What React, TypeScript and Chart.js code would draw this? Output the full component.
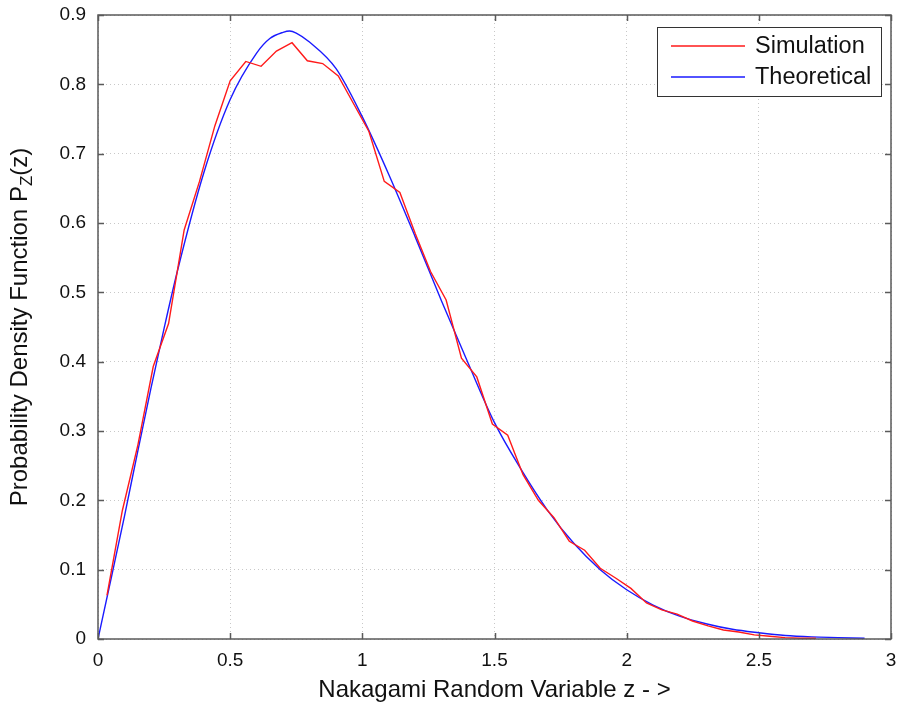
import React, { useEffect, useRef } from 'react';
import { Chart, registerables } from 'chart.js';

Chart.register(...registerables);

// Simulation (histogram-based PDF estimate)
const simX = [
  0.034, 0.092, 0.151, 0.209, 0.267, 0.326, 0.384, 0.442, 0.500, 0.559,
  0.617, 0.675, 0.734, 0.792, 0.850, 0.909, 0.967, 1.025, 1.083, 1.142,
  1.200, 1.258, 1.317, 1.375, 1.433, 1.492, 1.550, 1.608, 1.666, 1.725,
  1.783, 1.841, 1.900, 1.958, 2.016, 2.075, 2.133, 2.191, 2.249, 2.308,
  2.366, 2.424, 2.483, 2.541, 2.599, 2.657, 2.716,
];
const simY = [
  0.063, 0.185, 0.280, 0.393, 0.455, 0.590, 0.660, 0.740, 0.805, 0.833,
  0.826, 0.848, 0.860, 0.834, 0.830, 0.812, 0.772, 0.732, 0.660, 0.644,
  0.585, 0.530, 0.489, 0.405, 0.378, 0.310, 0.294, 0.237, 0.200, 0.175,
  0.141, 0.128, 0.102, 0.088, 0.073, 0.052, 0.042, 0.036, 0.026, 0.019,
  0.013, 0.010, 0.006, 0.004, 0.002, 0.001, 0.001,
];

// Theoretical Nakagami PDF
const theoX = [
  0, 0.05, 0.1, 0.15, 0.2, 0.25, 0.3, 0.4, 0.5, 0.6, 0.65, 0.7, 0.725, 0.75, 0.8,
  0.9, 1.0, 1.1, 1.2, 1.3, 1.4, 1.5, 1.6, 1.7, 1.8, 1.9, 2.0, 2.1, 2.2, 2.3,
  2.4, 2.5, 2.6, 2.7, 2.8, 2.9,
];
const theoY = [
  0, 0.088, 0.177, 0.270, 0.361, 0.448, 0.530, 0.672, 0.778, 0.845, 0.866,
  0.875, 0.877, 0.874, 0.861, 0.823, 0.753, 0.670, 0.580, 0.487, 0.398, 0.312,
  0.245, 0.186, 0.138, 0.100, 0.071, 0.049, 0.033, 0.022, 0.014, 0.009,
  0.005, 0.003, 0.002, 0.001,
];

const xTicks = [0, 0.5, 1, 1.5, 2, 2.5, 3];
const yTicks = [0, 0.1, 0.2, 0.3, 0.4, 0.5, 0.6, 0.7, 0.8, 0.9];

const seriesNames = ['Simulation', 'Theoretical'];
const seriesColors = ['#ff1a1a', '#1a1aff'];
const xTitle = 'Nakagami Random Variable z - >';
const yTitleMain = 'Probability Density Function P';
const yTitleSub = 'Z';
const yTitleEnd = '(z)';

const FONT = "'Liberation Sans', Arial, Helvetica, sans-serif";
const TITLE_PX = 24;

const decorPlugin = {
  id: 'decor',
  afterDatasetsDraw(chart: any) {
    const { ctx, chartArea: a, scales } = chart;
    ctx.save();
    ctx.strokeStyle = '#5a5a5a';
    ctx.lineWidth = 1.5;
    ctx.strokeRect(a.left, a.top, a.right - a.left, a.bottom - a.top);
    const L = 6;
    ctx.beginPath();
    xTicks.forEach((v) => {
      const px = Math.round(scales.x.getPixelForValue(v)) + 0.5;
      ctx.moveTo(px, a.bottom);
      ctx.lineTo(px, a.bottom - L);
      ctx.moveTo(px, a.top);
      ctx.lineTo(px, a.top + L);
    });
    yTicks.forEach((v) => {
      const py = Math.round(scales.y.getPixelForValue(v)) + 0.5;
      ctx.moveTo(a.left, py);
      ctx.lineTo(a.left + L, py);
      ctx.moveTo(a.right, py);
      ctx.lineTo(a.right - L, py);
    });
    ctx.stroke();
    ctx.restore();
  },
  afterDraw(chart: any) {
    const { ctx, chartArea: a } = chart;
    ctx.save();
    // legend box
    const bw = 224, bh = 69;
    const bx = a.right - 10 - bw;
    const by = a.top + 12;
    ctx.fillStyle = '#ffffff';
    ctx.fillRect(bx, by, bw, bh);
    ctx.strokeStyle = '#333';
    ctx.lineWidth = 1;
    ctx.strokeRect(bx + 0.5, by + 0.5, bw, bh);
    ctx.font = `23.5px ${FONT}`;
    ctx.textBaseline = 'middle';
    ctx.textAlign = 'left';
    seriesNames.forEach((name, i) => {
      const y = by + 19 + i * 31;
      ctx.strokeStyle = seriesColors[i];
      ctx.lineWidth = 1.5;
      ctx.beginPath();
      ctx.moveTo(bx + 14, y);
      ctx.lineTo(bx + 88, y);
      ctx.stroke();
      ctx.fillStyle = '#111';
      ctx.fillText(name, bx + 98, y + 1);
    });
    // x title
    ctx.fillStyle = '#111';
    ctx.font = `${TITLE_PX}px ${FONT}`;
    ctx.textAlign = 'center';
    ctx.textBaseline = 'middle';
    ctx.fillText(xTitle, (a.left + a.right) / 2, 690);
    // y title (rotated, with subscript)
    const f1 = `${TITLE_PX}px ${FONT}`;
    const f2 = `${Math.round(TITLE_PX * 0.72)}px ${FONT}`;
    ctx.font = f1;
    const w1 = ctx.measureText(yTitleMain).width;
    const w3 = ctx.measureText(yTitleEnd).width;
    ctx.font = f2;
    const w2 = ctx.measureText(yTitleSub).width;
    const total = w1 + w2 + w3;
    ctx.translate(20, (a.top + a.bottom) / 2);
    ctx.rotate(-Math.PI / 2);
    ctx.textAlign = 'left';
    let x0 = -total / 2;
    ctx.font = f1;
    ctx.fillText(yTitleMain, x0, 0);
    x0 += w1;
    ctx.font = f2;
    ctx.fillText(yTitleSub, x0, 7);
    x0 += w2;
    ctx.font = f1;
    ctx.fillText(yTitleEnd, x0, 0);
    ctx.restore();
  },
};

export default function App() {
  const ref = useRef<HTMLCanvasElement | null>(null);
  useEffect(() => {
    if (!ref.current) return;
    const fmt = (v: any) => String(Number(Number(v).toFixed(2)));
    const chart = new Chart(ref.current, {
      type: 'line',
      data: {
        datasets: [
          {
            label: seriesNames[0],
            data: simX.map((x, i) => ({ x, y: simY[i] })),
            borderColor: seriesColors[0],
            borderWidth: 1.4,
            pointRadius: 0,
            tension: 0,
            fill: false,
          },
          {
            label: seriesNames[1],
            data: theoX.map((x, i) => ({ x, y: theoY[i] })),
            borderColor: seriesColors[1],
            borderWidth: 1.4,
            pointRadius: 0,
            cubicInterpolationMode: 'monotone',
            fill: false,
          },
        ],
      },
      options: {
        responsive: false,
        animation: false,
        devicePixelRatio: 1,
        layout: { padding: { top: 15, right: 10, left: 0, bottom: 0 } },
        plugins: {
          legend: { display: false },
          tooltip: { enabled: false },
        },
        scales: {
          x: {
            type: 'linear',
            min: 0,
            max: 3,
            afterBuildTicks: (s: any) => {
              s.ticks = xTicks.map((v) => ({ value: v }));
            },
            afterFit: (s: any) => {
              s.height = 69;
              s.paddingLeft = 0;
              s.paddingRight = 0;
            },
            ticks: {
              callback: fmt,
              color: '#111',
              font: { size: 19, family: FONT },
              padding: 10,
              maxRotation: 0,
              autoSkip: false,
            },
            grid: { color: '#c8c8c8', lineWidth: 1, drawTicks: false },
            border: { display: false, dash: [1, 3] },
          },
          y: {
            type: 'linear',
            min: 0,
            max: 0.9,
            afterBuildTicks: (s: any) => {
              s.ticks = yTicks.map((v) => ({ value: v }));
            },
            afterFit: (s: any) => {
              s.width = 98;
              s.paddingTop = 0;
              s.paddingBottom = 0;
            },
            ticks: {
              callback: fmt,
              color: '#111',
              font: { size: 19, family: FONT },
              padding: 12,
              autoSkip: false,
            },
            grid: { color: '#c8c8c8', lineWidth: 1, drawTicks: false },
            border: { display: false, dash: [1, 3] },
          },
        },
      },
      plugins: [decorPlugin],
    } as any);
    return () => chart.destroy();
  }, []);
  return (
    <div style={{ position: 'absolute', left: 0, top: 0, width: 901, height: 708, background: '#fff' }}>
      <canvas ref={ref} width={901} height={708} />
    </div>
  );
}
